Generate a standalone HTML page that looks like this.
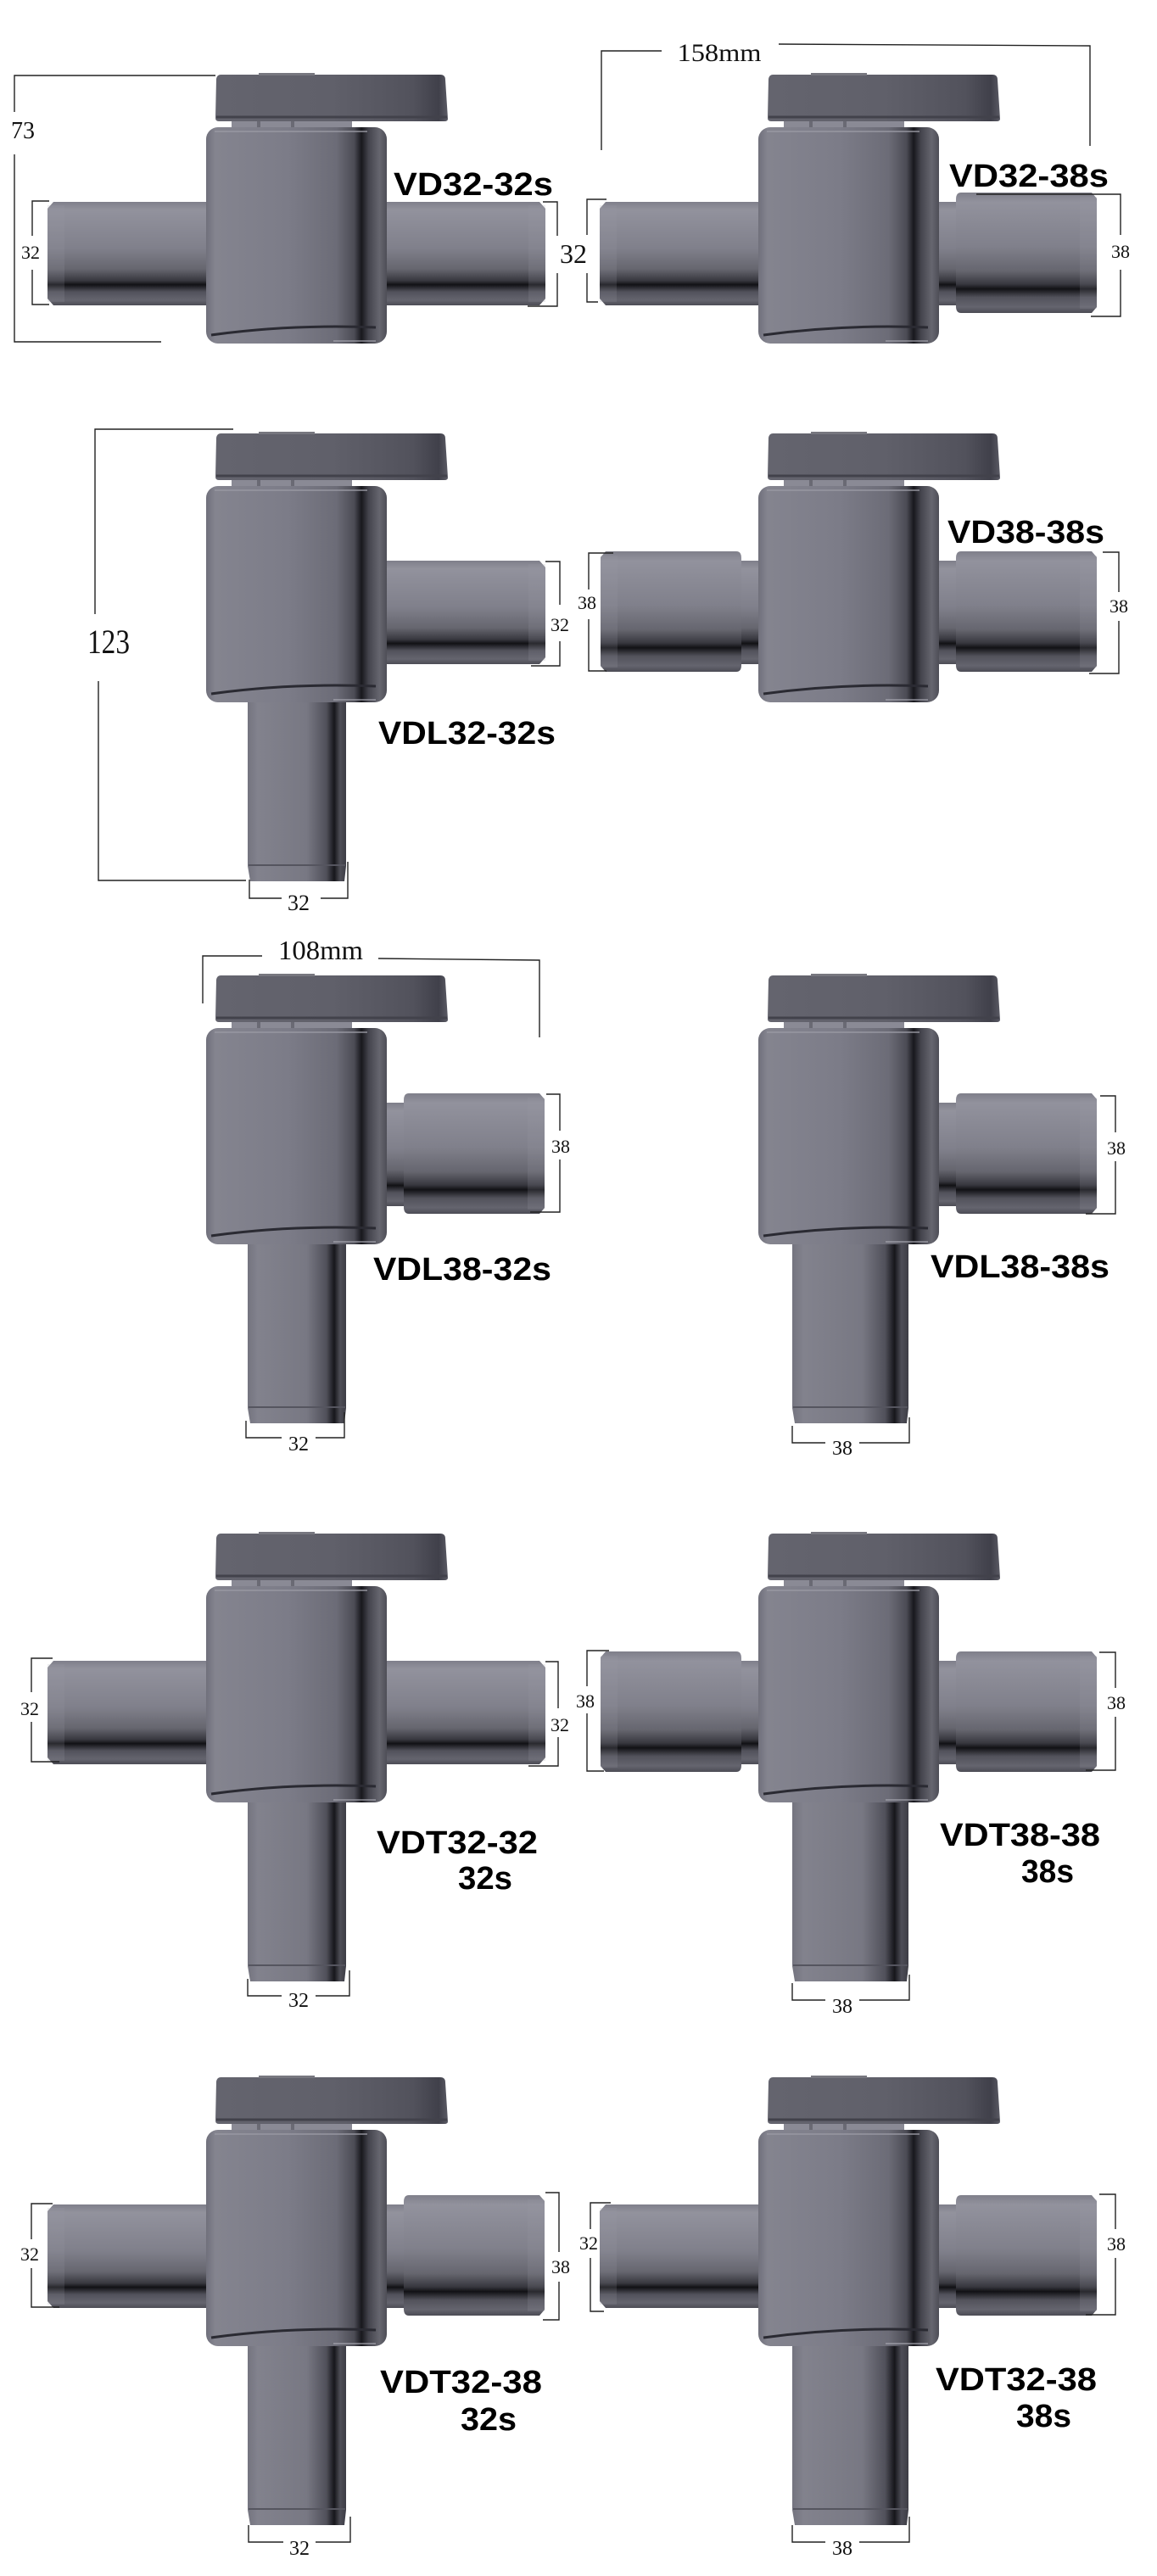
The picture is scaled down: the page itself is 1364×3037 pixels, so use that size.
<!DOCTYPE html>
<html><head><meta charset="utf-8"><style>
html,body{margin:0;padding:0;background:#fff;}
svg{display:block}
.lbl{font-family:"Liberation Sans",Arial,sans-serif;font-weight:bold;font-size:38px;fill:#000}
.dim{font-family:"Liberation Serif",serif;fill:#111}
.ln{fill:none;stroke:#222;stroke-width:1.4}
</style></head><body>
<svg width="1364" height="3037" viewBox="0 0 1364 3037" xmlns="http://www.w3.org/2000/svg">
<defs>
<linearGradient id="gBody" x1="0" y1="0" x2="1" y2="0">
<stop offset="0" stop-color="#70707b"/><stop offset="0.05" stop-color="#84848f"/>
<stop offset="0.45" stop-color="#7c7c88"/><stop offset="0.72" stop-color="#6c6c77"/>
<stop offset="0.82" stop-color="#4c4c55"/><stop offset="0.86" stop-color="#18181d"/>
<stop offset="0.9" stop-color="#44444d"/><stop offset="0.96" stop-color="#66666f"/>
<stop offset="1" stop-color="#4e4e57"/></linearGradient>
<linearGradient id="gPipe" x1="0" y1="0" x2="0" y2="1">
<stop offset="0" stop-color="#7f7f8a"/><stop offset="0.08" stop-color="#92929d"/>
<stop offset="0.45" stop-color="#80808b"/><stop offset="0.65" stop-color="#66666f"/>
<stop offset="0.76" stop-color="#38383f"/><stop offset="0.8" stop-color="#111115"/>
<stop offset="0.87" stop-color="#52525b"/><stop offset="0.95" stop-color="#64646e"/>
<stop offset="1" stop-color="#4c4c55"/></linearGradient>
<linearGradient id="gDown" x1="0" y1="0" x2="1" y2="0">
<stop offset="0" stop-color="#74747f"/><stop offset="0.1" stop-color="#82828d"/>
<stop offset="0.6" stop-color="#787883"/><stop offset="0.8" stop-color="#50505a"/>
<stop offset="0.88" stop-color="#16161b"/><stop offset="0.94" stop-color="#4e4e57"/>
<stop offset="1" stop-color="#3c3c45"/></linearGradient>
<linearGradient id="gHandle" x1="0" y1="0" x2="1" y2="0">
<stop offset="0" stop-color="#64646e"/><stop offset="0.5" stop-color="#60606a"/>
<stop offset="0.85" stop-color="#52525c"/><stop offset="0.96" stop-color="#40404a"/>
<stop offset="1" stop-color="#5a5a64"/></linearGradient>
<g id="handle">
<rect x="30" y="-9" width="142" height="11" fill="#8a8a95"/>
<rect x="60" y="-9" width="4" height="11" fill="#6a6a74"/>
<rect x="100" y="-9" width="4" height="11" fill="#6a6a74"/>
<path d="M17,-62 H276 Q282,-62 282,-56 L285,-10 Q285,-7 281,-7 H15 Q11,-7 11,-11 L12,-57 Q13,-62 17,-62 Z" fill="url(#gHandle)"/>
<rect x="62" y="-64" width="66" height="3" fill="#77777f"/>
<path d="M12,-12 H284" stroke="#42424b" stroke-width="3"/>
</g>
<g id="body">
<rect x="0" y="0" width="213" height="255" rx="14" fill="url(#gBody)"/>
<path d="M10,5 H190" stroke="#9a9aa4" stroke-width="2" opacity="0.7"/>
<path d="M6,245 Q100,232 200,236" stroke="#2a2a32" stroke-width="3" fill="none"/>
<path d="M150,252 H200" stroke="#a8a8b2" stroke-width="2" opacity="0.6"/>
</g>
<g id="pL32">
<path d="M-187,96 L-180,88 H4 V210 H-180 L-187,202 Z" fill="url(#gPipe)"/>
<rect x="-187" y="92" width="20" height="114" fill="#9a9aa5" opacity="0.18"/>
</g>
<g id="sL38">
<rect x="-30" y="88" width="34" height="122" fill="url(#gPipe)"/>
<path d="M-180,77 H-26 Q-20,77 -20,85 V211 Q-20,219 -26,219 H-180 L-186,212 V84 Z" fill="url(#gPipe)"/>
<rect x="-186" y="82" width="20" height="132" fill="#9a9aa5" opacity="0.18"/>
</g>
<g id="b32">
<path d="M49,250 H165 V448 L163,466 H52 L49,448 Z" fill="url(#gDown)"/>
<rect x="50" y="446" width="114" height="2" fill="#55555f"/>
</g>
<g id="b38">
<path d="M40,250 H177 V448 L175,466 H43 L40,448 Z" fill="url(#gDown)"/>
<rect x="41" y="446" width="135" height="2" fill="#55555f"/>
</g>
</defs>

<g transform="translate(243,150)">
<use href="#pL32"/><use href="#pL32" transform="translate(213,0) scale(-1,1)"/>
<use href="#handle"/><use href="#body"/></g>
<g transform="translate(894,150)">
<use href="#pL32"/><use href="#sL38" transform="translate(213,0) scale(-1,1)"/>
<use href="#handle"/><use href="#body"/></g>
<g transform="translate(243,573)">
<use href="#pL32" transform="translate(213,0) scale(-1,1)"/><use href="#b32"/>
<use href="#handle"/><use href="#body"/></g>
<g transform="translate(894,573)">
<use href="#sL38"/><use href="#sL38" transform="translate(213,0) scale(-1,1)"/>
<use href="#handle"/><use href="#body"/></g>
<g transform="translate(243,1212)">
<use href="#sL38" transform="translate(213,0) scale(-1,1)"/><use href="#b32"/>
<use href="#handle"/><use href="#body"/></g>
<g transform="translate(894,1212)">
<use href="#sL38" transform="translate(213,0) scale(-1,1)"/><use href="#b38"/>
<use href="#handle"/><use href="#body"/></g>
<g transform="translate(243,1870)">
<use href="#pL32"/><use href="#pL32" transform="translate(213,0) scale(-1,1)"/><use href="#b32"/>
<use href="#handle"/><use href="#body"/></g>
<g transform="translate(894,1870)">
<use href="#sL38"/><use href="#sL38" transform="translate(213,0) scale(-1,1)"/><use href="#b38"/>
<use href="#handle"/><use href="#body"/></g>
<g transform="translate(243,2511)">
<use href="#pL32"/><use href="#sL38" transform="translate(213,0) scale(-1,1)"/><use href="#b32"/>
<use href="#handle"/><use href="#body"/></g>
<g transform="translate(894,2511)">
<use href="#pL32"/><use href="#sL38" transform="translate(213,0) scale(-1,1)"/><use href="#b38"/>
<use href="#handle"/><use href="#body"/></g>

<g class="ln">
<path d="M254,89 H17 V132 M17,182 V403 H190"/>
<path d="M58,237 H38 V278 M38,318 V359 H58"/>
<path d="M640,238 H657 V278 M657,322 V361 H622"/>
<path d="M715,235 H692 V277 M692,322 V356 H705"/>
<path d="M1151,229 H1321 V277 M1321,318 V373 H1286"/>
<path d="M709,177 V60 H780 M918,52 L1285,54 V172"/>
<path d="M275,506 H112 V724 M116,803 V1038 H290"/>
<path d="M643,662 H660 V713 M660,756 V785 H626"/>
<path d="M294,1037 V1059 H332 M378,1059 H410 V1016"/>
<path d="M723,652 H694 V695 M694,730 V791 H715"/>
<path d="M1300,651 H1319 V698 M1319,732 V794 H1284"/>
<path d="M239,1183 V1127 H309 M446,1130 L636,1132 V1223"/>
<path d="M644,1290 H660 V1333 M660,1367 V1429 H625"/>
<path d="M290,1675 V1695 H332 M372,1695 H406 V1665"/>
<path d="M1297,1292 H1315 V1335 M1315,1369 V1431 H1280"/>
<path d="M934,1681 V1701 H973 M1013,1701 H1072 V1671"/>
<path d="M62,1955 H37 V1995 M37,2030 V2077 H70"/>
<path d="M643,1959 H658 V2014 M658,2048 V2082 H623"/>
<path d="M292,2333 V2353 H332 M372,2353 H412 V2323"/>
<path d="M718,1946 H692 V1988 M692,2020 V2088 H712"/>
<path d="M1296,1948 H1315 V1990 M1315,2024 V2087 H1280"/>
<path d="M934,2338 V2358 H973 M1013,2358 H1072 V2328"/>
<path d="M62,2598 H37 V2640 M37,2674 V2720 H70"/>
<path d="M643,2585 H659 V2655 M659,2690 V2735 H640"/>
<path d="M293,2977 V2997 H334 M372,2997 H413 V2967"/>
<path d="M720,2597 H696 V2628 M696,2662 V2725 H712"/>
<path d="M1296,2587 H1315 V2628 M1315,2662 V2729 H1280"/>
<path d="M934,2977 V2997 H973 M1013,2997 H1072 V2967"/>
</g>

<g class="dim" text-anchor="middle">
<text x="27" y="163" font-size="28">73</text>
<text x="36" y="305" font-size="22">32</text>
<text x="676" y="310" font-size="32">32</text>
<text x="1321" y="304" font-size="22">38</text>
<text x="848" y="72" font-size="30" textLength="99" lengthAdjust="spacingAndGlyphs">158mm</text>
<text x="128" y="770" font-size="40" textLength="50" lengthAdjust="spacingAndGlyphs">123</text>
<text x="660" y="744" font-size="22">32</text>
<text x="352" y="1073" font-size="26">32</text>
<text x="692" y="718" font-size="22">38</text>
<text x="1319" y="722" font-size="22">38</text>
<text x="378" y="1131" font-size="32" textLength="100" lengthAdjust="spacingAndGlyphs">108mm</text>
<text x="661" y="1359" font-size="22">38</text>
<text x="352" y="1710" font-size="24">32</text>
<text x="1316" y="1361" font-size="22">38</text>
<text x="993" y="1715" font-size="24">38</text>
<text x="35" y="2022" font-size="22">32</text>
<text x="660" y="2041" font-size="22">32</text>
<text x="352" y="2366" font-size="24">32</text>
<text x="690" y="2013" font-size="22">38</text>
<text x="1316" y="2015" font-size="22">38</text>
<text x="993" y="2373" font-size="24">38</text>
<text x="35" y="2665" font-size="22">32</text>
<text x="661" y="2680" font-size="22">38</text>
<text x="353" y="3012" font-size="24">32</text>
<text x="694" y="2652" font-size="22">32</text>
<text x="1316" y="2653" font-size="22">38</text>
<text x="993" y="3012" font-size="24">38</text>
</g>

<g class="lbl">
<text x="464" y="230" textLength="188" lengthAdjust="spacingAndGlyphs">VD32-32s</text>
<text x="1119" y="220" textLength="188" lengthAdjust="spacingAndGlyphs">VD32-38s</text>
<text x="446" y="877" textLength="209" lengthAdjust="spacingAndGlyphs">VDL32-32s</text>
<text x="1117" y="640" textLength="185" lengthAdjust="spacingAndGlyphs">VD38-38s</text>
<text x="440" y="1509" textLength="210" lengthAdjust="spacingAndGlyphs">VDL38-32s</text>
<text x="1097" y="1506" textLength="211" lengthAdjust="spacingAndGlyphs">VDL38-38s</text>
<text x="444" y="2185" textLength="190" lengthAdjust="spacingAndGlyphs">VDT32-32</text>
<text x="540" y="2227" textLength="64" lengthAdjust="spacingAndGlyphs">32s</text>
<text x="1108" y="2176" textLength="189" lengthAdjust="spacingAndGlyphs">VDT38-38</text>
<text x="1204" y="2219" textLength="62" lengthAdjust="spacingAndGlyphs">38s</text>
<text x="448" y="2821" textLength="191" lengthAdjust="spacingAndGlyphs">VDT32-38</text>
<text x="543" y="2865" textLength="66" lengthAdjust="spacingAndGlyphs">32s</text>
<text x="1103" y="2818" textLength="190" lengthAdjust="spacingAndGlyphs">VDT32-38</text>
<text x="1198" y="2861" textLength="65" lengthAdjust="spacingAndGlyphs">38s</text>
</g>
</svg>
</body></html>
